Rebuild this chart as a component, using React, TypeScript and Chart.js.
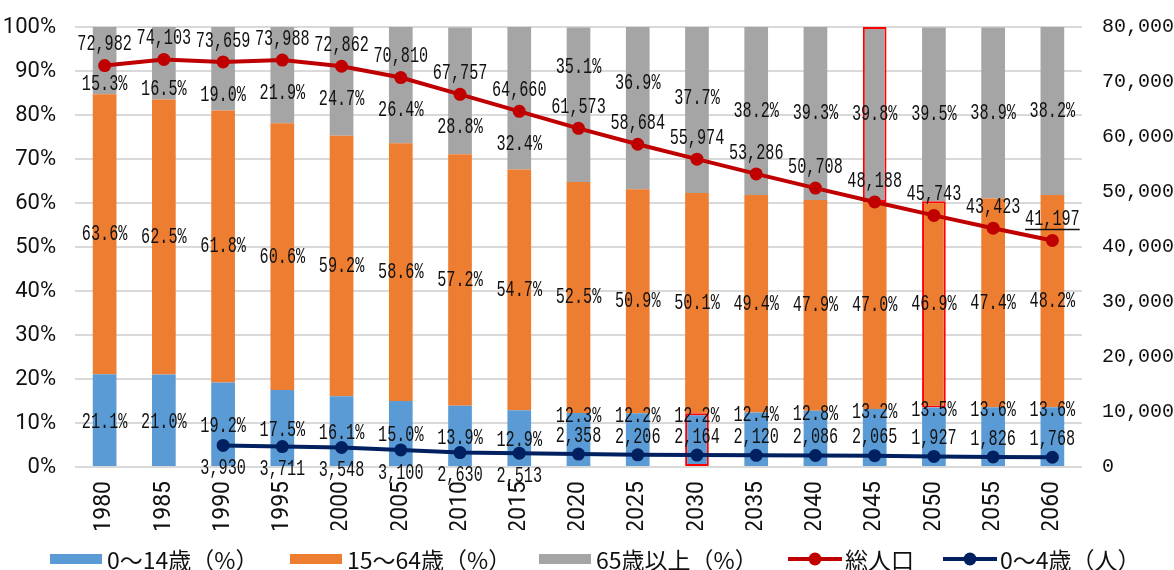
import { useEffect, useRef } from 'react';
import { Chart, registerables } from 'chart.js';

Chart.register(...registerables);

// 年次（5年ごと）
const years = ['1980', '1985', '1990', '1995', '2000', '2005', '2010', '2015', '2020',
  '2025', '2030', '2035', '2040', '2045', '2050', '2055', '2060'];

// 年齢3区分の構成比（%）
const share0to14 = [21.1, 21.0, 19.2, 17.5, 16.1, 15.0, 13.9, 12.9, 12.3, 12.2, 12.2, 12.4, 12.8, 13.2, 13.5, 13.6, 13.6];
const share15to64 = [63.6, 62.5, 61.8, 60.6, 59.2, 58.6, 57.2, 54.7, 52.5, 50.9, 50.1, 49.4, 47.9, 47.0, 46.9, 47.4, 48.2];
const share65plus = [15.3, 16.5, 19.0, 21.9, 24.7, 26.4, 28.8, 32.4, 35.1, 36.9, 37.7, 38.2, 39.3, 39.8, 39.5, 38.9, 38.2];

// 総人口・0～4歳人口（人）
const totalPopulation = [72982, 74103, 73659, 73988, 72862, 70810, 67757, 64660, 61573, 58684, 55974, 53286, 50708, 48188, 45743, 43423, 41197];
const under5 = [null, null, 3930, 3711, 3548, 3100, 2630, 2513, 2358, 2206, 2164, 2120, 2086, 2065, 1927, 1826, 1768];

// 軸の目盛
const pctAxis = { min: 0, max: 100, step: 10 };
const peopleAxis = { min: 0, max: 80000, step: 10000 };

// 枠で強調する年
const mark0to14 = ['2030'];
const mark15to64 = ['2050'];
const mark65plus = ['2045'];

// 0～4歳のラベルを点の下に置く最後の年
const under5BelowThrough = '2015';

const BLUE = '#5b9bd5';
const ORANGE = '#ed7d31';
const GRAY = '#a5a5a5';
const RED = '#c00000';
const NAVY = '#002060';
const TEXT = '#111111';
const NARROW = "'Liberation Sans Narrow', 'Roboto', 'Noto Sans CJK JP', sans-serif";
const LABEL_FONT = "22px 'Liberation Mono', 'DejaVu Sans Mono', monospace";
const LEGEND_FONT = "23px 'Liberation Sans Narrow', 'Noto Sans CJK JP', sans-serif";
const LEGEND_X = [50, 290, 539, 788, 943];

const fmtPct = (v: number) => v.toFixed(1) + '%';
const fmtNum = (v: number) => v.toLocaleString('en-US');

function drawLabel(ctx: CanvasRenderingContext2D, text: string, x: number, y: number, underline = false) {
  ctx.save();
  ctx.translate(x, y);
  ctx.scale(0.69, 1);
  ctx.font = LABEL_FONT;
  ctx.fillStyle = TEXT;
  ctx.textAlign = 'center';
  ctx.textBaseline = 'middle';
  ctx.fillText(text, 0, 0);
  if (underline) {
    const w = ctx.measureText(text).width;
    ctx.strokeStyle = TEXT;
    ctx.lineWidth = 1.5;
    ctx.beginPath();
    ctx.moveTo(-w / 2, 10);
    ctx.lineTo(w / 2, 10);
    ctx.stroke();
  }
  ctx.restore();
}

const valueLabels = {
  id: 'valueLabels',
  afterDatasetsDraw(chart: any) {
    const ctx: CanvasRenderingContext2D = chart.ctx;
    const total = chart.getDatasetMeta(0).data;
    const young = chart.getDatasetMeta(1).data;
    const b0 = chart.getDatasetMeta(2).data;
    const b1 = chart.getDatasetMeta(3).data;
    const b2 = chart.getDatasetMeta(4).data;
    const belowLimit = years.indexOf(under5BelowThrough);
    const last = years.length - 1;

    years.forEach((_, i) => {
      const cx = b0[i].x;
      const p = total[i].y;
      const redLabelY = p - 21;

      // 総人口
      drawLabel(ctx, fmtNum(totalPopulation[i]), total[i].x, redLabelY, i === last);

      // 65歳以上：線と重なる場合は避けて配置
      const c65 = (b2[i].y + b2[i].base) / 2;
      let y65 = c65;
      if (Math.abs(c65 - p) < 22) y65 = Math.min(p + 33, b2[i].base - 10);
      else if (Math.abs(c65 - redLabelY) < 30) y65 = redLabelY - 40;
      drawLabel(ctx, fmtPct(share65plus[i]), cx, y65);

      // 15～64歳
      drawLabel(ctx, fmtPct(share15to64[i]), cx, (b1[i].y + b1[i].base) / 2);

      // 0～14歳と0～4歳
      const u = under5[i];
      const above = u != null && i > belowLimit;
      const y014 = above ? b0[i].y + 3 : (b0[i].y + b0[i].base) / 2 + 2;
      drawLabel(ctx, fmtPct(share0to14[i]), cx, y014);
      if (u != null) {
        const py = young[i].y;
        drawLabel(ctx, fmtNum(u), young[i].x, above ? py - 18 : py + 23);
      }
    });
  },
};

const bottomLegend = {
  id: 'bottomLegend',
  afterDraw(chart: any) {
    const ctx: CanvasRenderingContext2D = chart.ctx;
    const cy = chart.height - 11;
    const order = [2, 3, 4, 0, 1];
    ctx.save();
    ctx.font = LEGEND_FONT;
    ctx.textBaseline = 'middle';
    ctx.textAlign = 'left';
    order.forEach((di, k) => {
      const ds = chart.data.datasets[di];
      const x = LEGEND_X[k];
      if (ds.type === 'bar') {
        ctx.fillStyle = ds.backgroundColor;
        ctx.fillRect(x, cy - 5, 52, 10);
      } else {
        ctx.strokeStyle = ds.borderColor;
        ctx.lineWidth = 4;
        ctx.beginPath();
        ctx.moveTo(x, cy);
        ctx.lineTo(x + 54, cy);
        ctx.stroke();
        ctx.fillStyle = ds.borderColor;
        ctx.beginPath();
        ctx.arc(x + 27, cy, 6.5, 0, Math.PI * 2);
        ctx.fill();
      }
      ctx.fillStyle = TEXT;
      ctx.fillText(ds.label, x + 57, cy + 1);
    });
    ctx.restore();
  },
};

const markBorder = (marked: string[]) => ({
  borderColor: (c: any) => (marked.includes(years[c.dataIndex]) ? '#ff0000' : 'rgba(0,0,0,0)'),
  borderWidth: (c: any) => (marked.includes(years[c.dataIndex]) ? 2 : 0),
  borderSkipped: false,
});

// 縦軸ラベルのはみ出し分で描画領域が縮まないようにする
const fitVertical = (width: number) => (s: any) => {
  s.width = width;
  s.paddingTop = 0;
  s.paddingBottom = 0;
};

export default function App() {
  const canvasRef = useRef<HTMLCanvasElement | null>(null);

  useEffect(() => {
    const canvas = canvasRef.current;
    if (!canvas) return;
    const chart = new Chart(canvas, {
      data: {
        labels: years,
        datasets: [
          {
            type: 'line', label: '総人口', data: totalPopulation, yAxisID: 'y1', order: 0,
            borderColor: RED, backgroundColor: RED, borderWidth: 4,
            pointRadius: 6.5, pointBackgroundColor: RED, pointBorderWidth: 0,
          },
          {
            type: 'line', label: '0～4歳（人）', data: under5, yAxisID: 'y1', order: 0,
            borderColor: NAVY, backgroundColor: NAVY, borderWidth: 4,
            pointRadius: 6.5, pointBackgroundColor: NAVY, pointBorderWidth: 0,
          },
          {
            type: 'bar', label: '0～14歳（%）', data: share0to14, yAxisID: 'y', order: 1,
            backgroundColor: BLUE, barPercentage: 0.4, categoryPercentage: 1, ...markBorder(mark0to14),
          },
          {
            type: 'bar', label: '15～64歳（%）', data: share15to64, yAxisID: 'y', order: 1,
            backgroundColor: ORANGE, barPercentage: 0.4, categoryPercentage: 1, ...markBorder(mark15to64),
          },
          {
            type: 'bar', label: '65歳以上（%）', data: share65plus, yAxisID: 'y', order: 1,
            backgroundColor: GRAY, barPercentage: 0.4, categoryPercentage: 1, ...markBorder(mark65plus),
          },
        ] as any,
      },
      options: {
        responsive: false,
        animation: false,
        events: [],
        layout: { padding: { top: 27, bottom: 40, left: 0, right: 0 } },
        plugins: { legend: { display: false }, tooltip: { enabled: false } },
        scales: {
          x: {
            stacked: true,
            grid: { display: false, drawTicks: false },
            border: { display: false },
            ticks: {
              autoSkip: false, minRotation: 90, maxRotation: 90, padding: 14,
              color: TEXT, font: { family: NARROW, size: 23 },
            },
            afterFit: (s: any) => { s.height = 63; },
          },
          y: {
            stacked: true,
            min: pctAxis.min, max: pctAxis.max,
            grid: { color: '#d9d9d9', lineWidth: 2, drawTicks: false },
            border: { display: false },
            ticks: {
              stepSize: pctAxis.step, padding: 19, color: TEXT,
              font: { family: NARROW, size: 22 },
              callback: (v: any) => v + '%',
            },
            afterFit: fitVertical(75),
          },
          y1: {
            position: 'right',
            min: peopleAxis.min, max: peopleAxis.max,
            grid: { display: false, drawTicks: false },
            border: { display: false },
            ticks: {
              stepSize: peopleAxis.step, padding: 20, color: TEXT,
              font: { family: "'Liberation Mono', monospace", size: 20 },
              callback: (v: any) => fmtNum(Number(v)),
            },
            afterFit: fitVertical(92),
          },
        },
      } as any,
      plugins: [valueLabels, bottomLegend],
    });
    return () => chart.destroy();
  }, []);

  return (
    <div style={{ position: 'fixed', left: 0, top: 0, width: 1174, height: 570, background: '#fff' }}>
      <canvas ref={canvasRef} width={1174} height={570} />
    </div>
  );
}
